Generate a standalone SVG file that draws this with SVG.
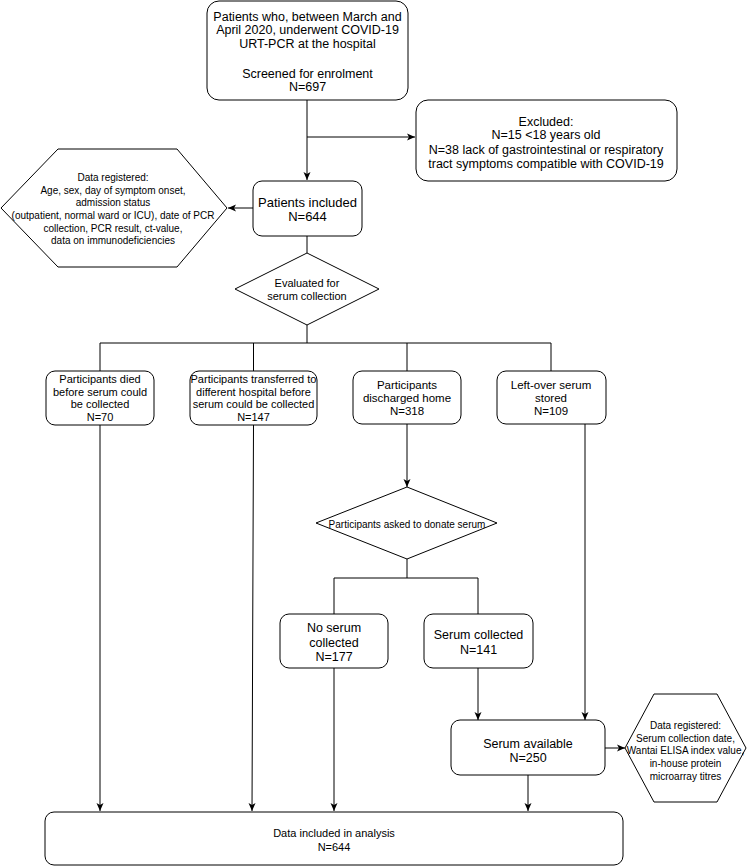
<svg xmlns="http://www.w3.org/2000/svg" width="750" height="867" viewBox="0 0 750 867">
<defs>
<marker id="arr" markerUnits="userSpaceOnUse" markerWidth="10" markerHeight="10" viewBox="0 0 10 10" refX="9" refY="5" orient="auto">
<path d="M1,1.5 L9,5 L1,8.5 L3,5 z" fill="#000"/>
</marker>
<style>
.box{fill:#fff;stroke:#000;stroke-width:1}
.ln{fill:none;stroke:#000;stroke-width:1}
text{font-family:"Liberation Sans",Arial,sans-serif;fill:#000;text-anchor:middle}
.f125{font-size:12.5px}
.f13{font-size:13px}
.f115{font-size:11.5px}
.f11{font-size:11px}
.f10{font-size:10px}
</style>
</defs>
<rect width="750" height="867" fill="#fff"/>

<g id="connectors">
<path class="ln" d="M307,100 V180" marker-end="url(#arr)"/>
<path class="ln" d="M307,137 H415" marker-end="url(#arr)"/>
<path class="ln" d="M253,208 H228" marker-end="url(#arr)"/>
<path class="ln" d="M307,236 V253"/>
<path class="ln" d="M307,325 V343 M100,343 H551 M100,343 V371 M253.5,343 V371 M407,343 V371 M551,343 V371"/>
<path class="ln" d="M100,425 V811" marker-end="url(#arr)"/>
<path class="ln" d="M253.5,425 L252,811" marker-end="url(#arr)"/>
<path class="ln" d="M407,424 V487" marker-end="url(#arr)"/>
<path class="ln" d="M407,559 V578 M334,578 H478 M334,578 V614 M478,578 V614"/>
<path class="ln" d="M334,668 V811" marker-end="url(#arr)"/>
<path class="ln" d="M478,668 V720" marker-end="url(#arr)"/>
<path class="ln" d="M585,424 V720" marker-end="url(#arr)"/>
<path class="ln" d="M528,775 V811" marker-end="url(#arr)"/>
<path class="ln" d="M605,748 H625" marker-end="url(#arr)"/>
</g>

<g id="screened">
<rect class="box" x="207" y="1" width="201" height="99" rx="12"/>
<text class="f125" x="307.5" y="20.5">Patients who, between March and</text>
<text class="f125" x="307.5" y="34">April 2020, underwent COVID-19</text>
<text class="f125" x="307.5" y="47.5">URT-PCR at the hospital</text>
<text class="f125" x="307.5" y="77.5">Screened for enrolment</text>
<text class="f125" x="307.5" y="91">N=697</text>
</g>

<g id="excluded">
<rect class="box" x="416" y="100" width="261" height="81" rx="12"/>
<text class="f125" x="546" y="125.5">Excluded:</text>
<text class="f125" x="546" y="139">N=15 &lt;18 years old</text>
<text class="f125" x="546" y="153.5">N=38 lack of gastrointestinal or respiratory</text>
<text class="f125" x="546" y="167.5">tract symptoms compatible with COVID-19</text>
</g>

<g id="included">
<rect class="box" x="253" y="181" width="109" height="55" rx="9"/>
<text class="f13" x="307.5" y="206.5">Patients included</text>
<text class="f13" x="307.5" y="220.5">N=644</text>
</g>

<g id="data-registered-1">
<polygon class="box" points="1,208 58,149 177,149 227,208 177,267 58,267"/>
<text class="f10" x="113" y="180.5">Data registered:</text>
<text class="f10" x="113" y="193.5">Age, sex, day of symptom onset,</text>
<text class="f10" x="113" y="205.5">admission status</text>
<text class="f10" x="113" y="218.5">(outpatient, normal ward or ICU), date of PCR</text>
<text class="f10" x="113" y="231.5">collection, PCR result, ct-value,</text>
<text class="f10" x="113" y="243.5">data on immunodeficiencies</text>
</g>

<g id="evaluated">
<polygon class="box" points="235,289 307,253 379,289 307,325"/>
<text class="f11" x="307" y="287">Evaluated for</text>
<text class="f11" x="307" y="300">serum collection</text>
</g>

<g id="died">
<rect class="box" x="46" y="371" width="108" height="54" rx="9"/>
<text class="f11" x="100" y="383">Participants died</text>
<text class="f11" x="100" y="396">before serum could</text>
<text class="f11" x="100" y="408">be collected</text>
<text class="f11" x="100" y="421">N=70</text>
</g>

<g id="transferred">
<rect class="box" x="190" y="371" width="127" height="54" rx="9"/>
<text class="f11" x="253.5" y="383">Participants transferred to</text>
<text class="f11" x="253.5" y="396">different hospital before</text>
<text class="f11" x="253.5" y="408">serum could be collected</text>
<text class="f11" x="253.5" y="421">N=147</text>
</g>

<g id="discharged">
<rect class="box" x="353" y="371" width="108" height="53" rx="9"/>
<text class="f115" x="407" y="389">Participants</text>
<text class="f115" x="407" y="402">discharged home</text>
<text class="f115" x="407" y="415">N=318</text>
</g>

<g id="leftover">
<rect class="box" x="497" y="371" width="109" height="53" rx="9"/>
<text class="f115" x="551" y="389">Left-over serum</text>
<text class="f115" x="551" y="402">stored</text>
<text class="f115" x="551" y="415">N=109</text>
</g>

<g id="asked">
<polygon class="box" points="316,523 407,487 497,523 407,559"/>
<text class="f10" x="407" y="527.5">Participants asked to donate serum</text>
</g>

<g id="no-serum">
<rect class="box" x="280" y="614" width="108" height="54" rx="9"/>
<text class="f125" x="334" y="631.5">No serum</text>
<text class="f125" x="334" y="646.5">collected</text>
<text class="f125" x="334" y="660.5">N=177</text>
</g>

<g id="serum-collected">
<rect class="box" x="424" y="614" width="109" height="54" rx="9"/>
<text class="f125" x="478.5" y="638.5">Serum collected</text>
<text class="f125" x="478.5" y="653.5">N=141</text>
</g>

<g id="serum-available">
<rect class="box" x="451" y="720" width="154" height="55" rx="9"/>
<text class="f125" x="528" y="747.5">Serum available</text>
<text class="f125" x="528" y="761.5">N=250</text>
</g>

<g id="data-registered-2">
<polygon class="box" points="625,748 654,694 717,694 746,748 717,802 654,802"/>
<text class="f10" x="685.5" y="728.5">Data registered:</text>
<text class="f10" x="685.5" y="741.5">Serum collection date,</text>
<text class="f10" x="685.5" y="753.5">Wantai ELISA index value,</text>
<text class="f10" x="685.5" y="766.5">in-house protein</text>
<text class="f10" x="685.5" y="779.5">microarray titres</text>
</g>

<g id="analysis">
<rect class="box" x="45" y="812" width="578" height="53" rx="9"/>
<text class="f11" x="334" y="837">Data included in analysis</text>
<text class="f11" x="334" y="851">N=644</text>
</g>
</svg>
